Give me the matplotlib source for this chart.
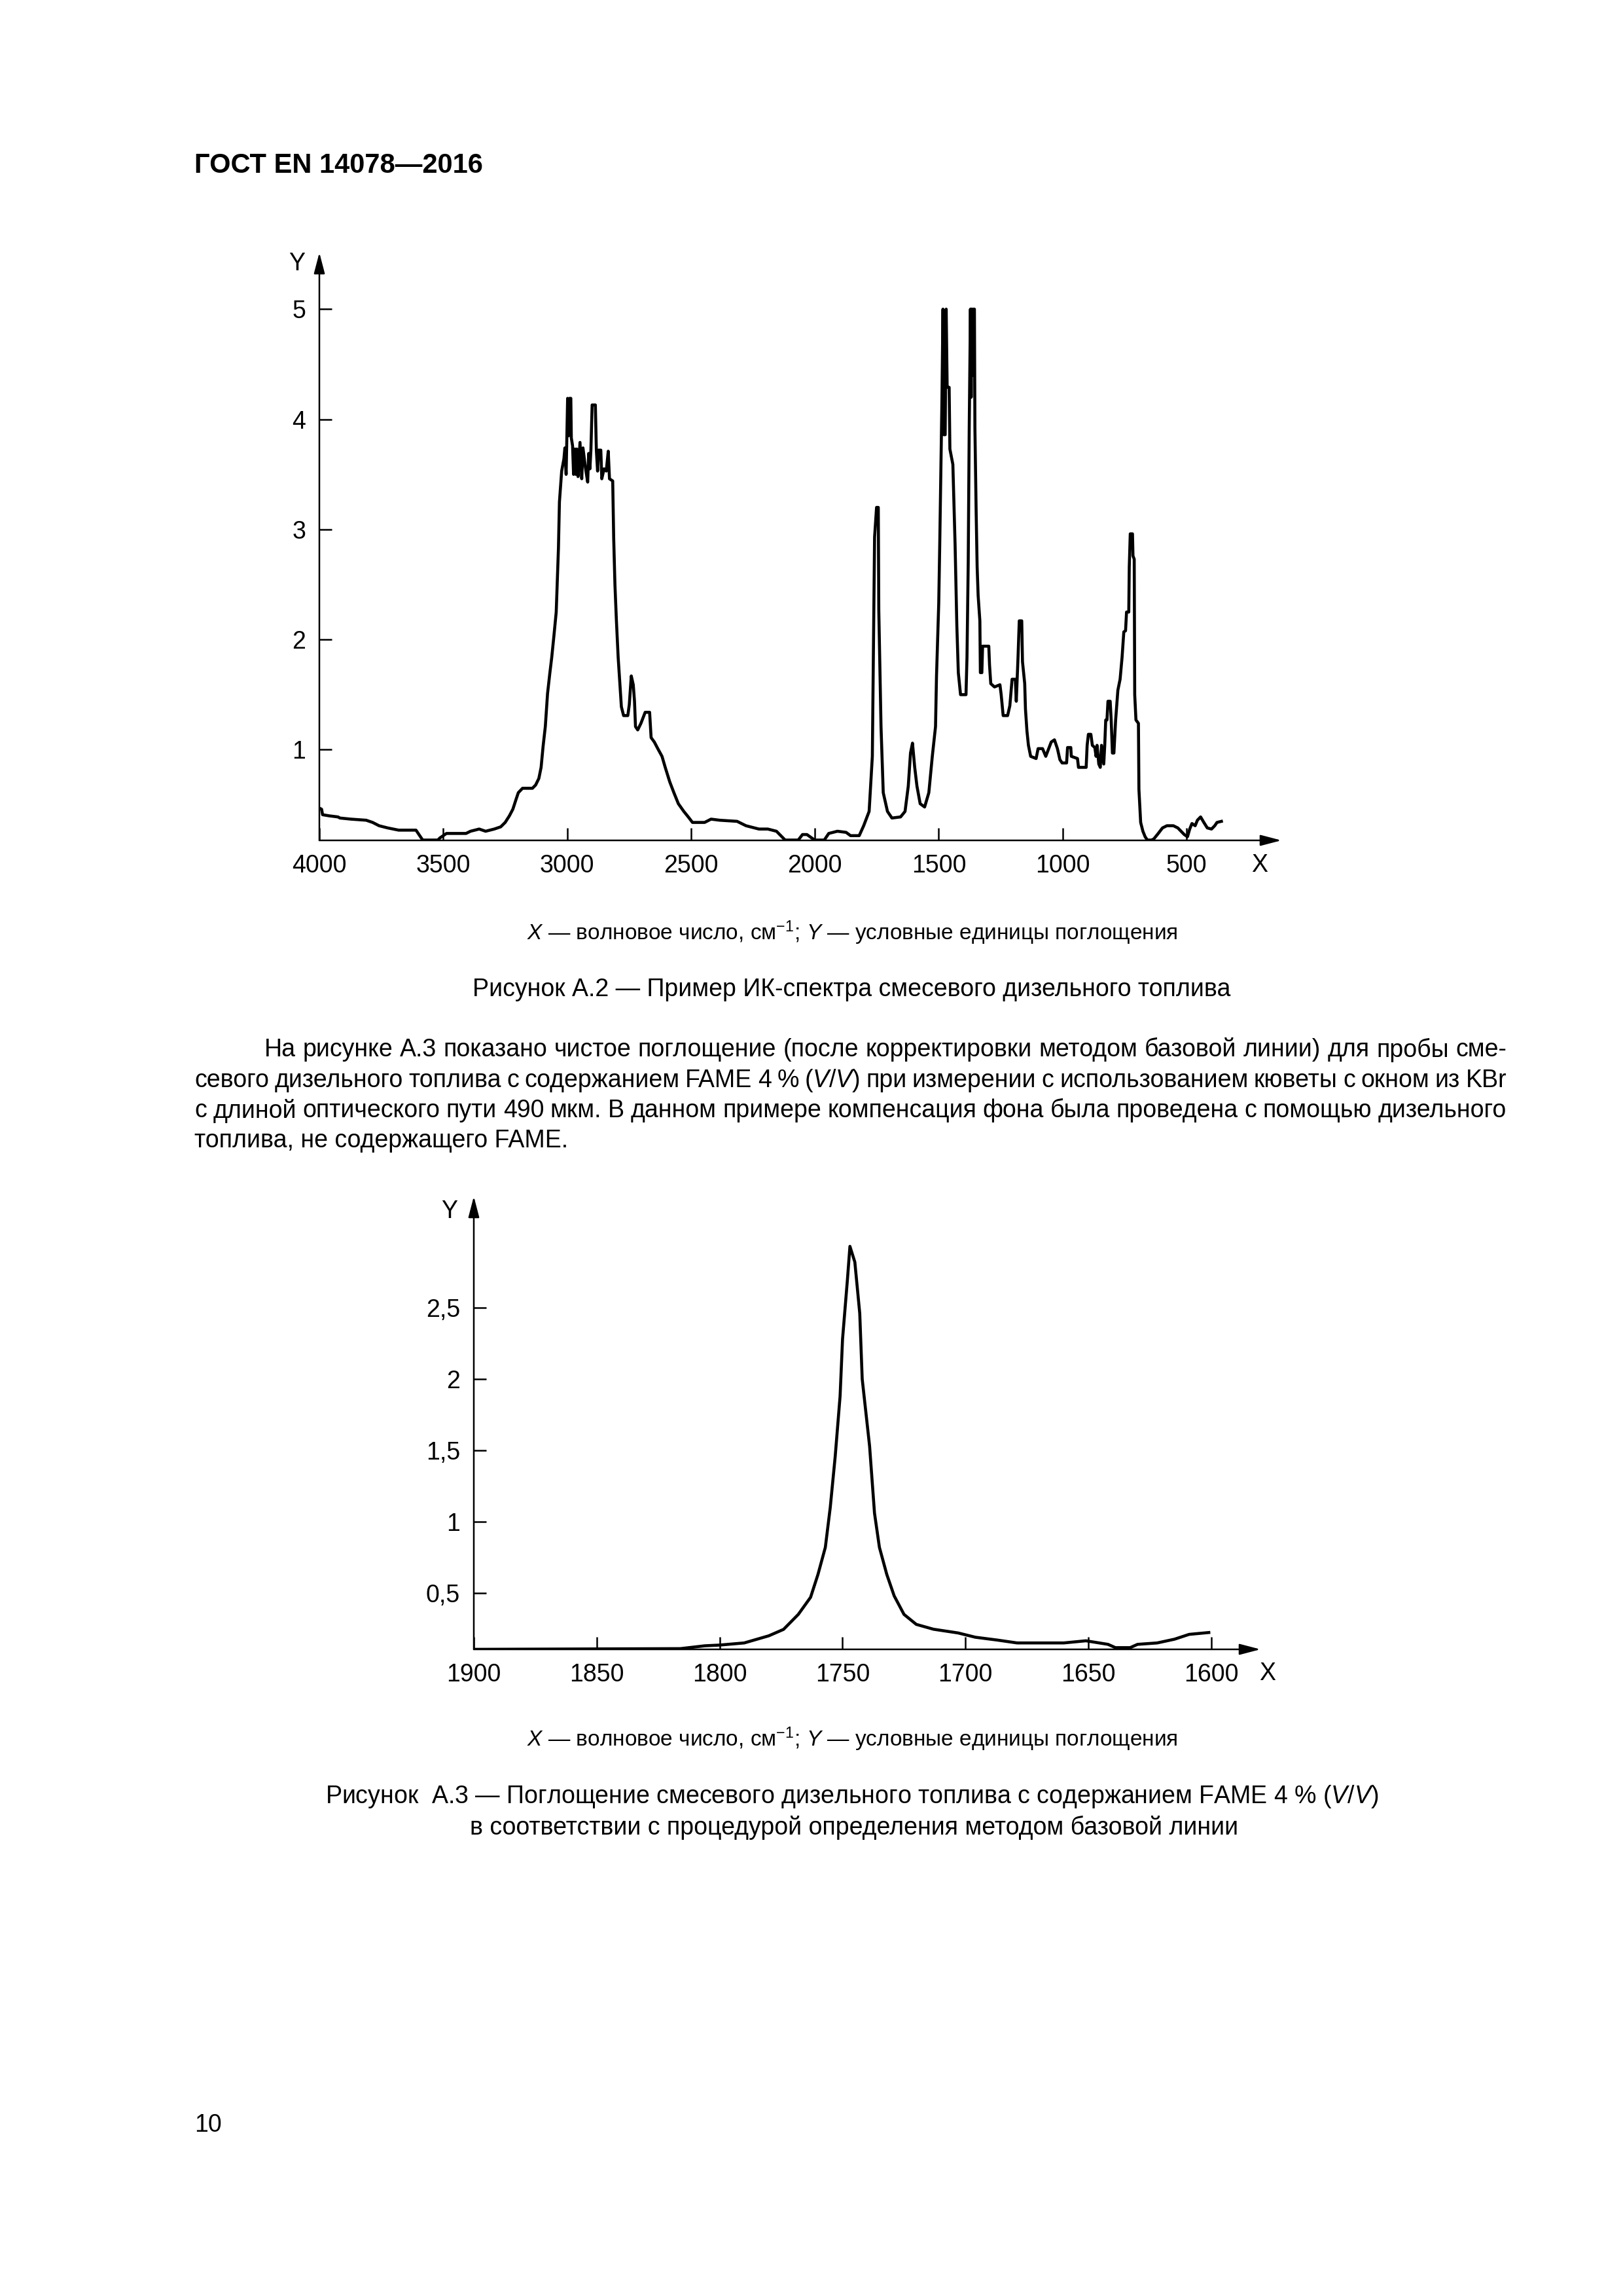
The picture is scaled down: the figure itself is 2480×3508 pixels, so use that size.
import numpy as np
import matplotlib
matplotlib.use('Agg')
import matplotlib.pyplot as plt

plt.rcParams['font.family'] = ['Liberation Sans', 'DejaVu Sans']
plt.rcParams['mathtext.fontset'] = 'custom'
plt.rcParams['mathtext.rm'] = 'Liberation Sans'
plt.rcParams['mathtext.it'] = 'Liberation Sans:italic'

# --- figure A.2 : IR spectrum of blended diesel fuel (read from the page) ---
wn1 = [4000, 3991, 3987, 3961, 3925, 3917, 3873, 3811, 3785, 3759,
       3724, 3680, 3610, 3601, 3583, 3522, 3513, 3487, 3408, 3390,
       3355, 3329, 3294, 3268, 3250, 3233, 3219, 3206, 3197, 3180,
       3140, 3127, 3114, 3105, 3097, 3088, 3079, 3070, 3062, 3053,
       3044, 3035, 3031, 3022, 3013, 3009, 3004, 2998, 2994, 2990,
       2985, 2983, 2978, 2974, 2969, 2965, 2961, 2956, 2948, 2941,
       2936, 2926, 2917, 2913, 2908, 2904, 2899, 2886, 2882, 2877,
       2873, 2864, 2860, 2851, 2842, 2834, 2829, 2816, 2812, 2807,
       2801, 2794, 2786, 2781, 2772, 2755, 2749, 2741, 2733, 2728,
       2724, 2715, 2702, 2685, 2667, 2661, 2648, 2634, 2617, 2604,
       2586, 2569, 2551, 2529, 2511, 2494, 2445, 2419, 2384, 2314,
       2278, 2226, 2190, 2155, 2120, 2067, 2050, 2032, 2001, 1962,
       1944, 1909, 1874, 1856, 1821, 1803, 1781, 1768, 1759, 1751,
       1744, 1742, 1733, 1724, 1707, 1689, 1654, 1636, 1623, 1614,
       1606, 1597, 1588, 1575, 1557, 1540, 1526, 1513, 1509, 1500,
       1496, 1487, 1483, 1479, 1474, 1470, 1466, 1458, 1455, 1443,
       1434, 1427, 1421, 1412, 1390, 1386, 1381, 1377, 1372, 1369,
       1366, 1362, 1359, 1356, 1354, 1349, 1345, 1341, 1334, 1332,
       1326, 1323, 1298, 1295, 1290, 1275, 1253, 1248, 1240, 1222,
       1213, 1204, 1191, 1187, 1180, 1175, 1165, 1162, 1153, 1150,
       1144, 1138, 1129, 1107, 1099, 1081, 1068, 1046, 1033, 1021,
       1011, 1002, 984, 980, 967, 965, 940, 936, 905, 901,
       896, 886, 880, 870, 865, 861, 854, 848, 843, 834,
       830, 826, 821, 817, 808, 804, 799, 793, 786, 777,
       768, 760, 753, 746, 742, 733, 731, 727, 718, 716,
       711, 709, 704, 694, 692, 685, 676, 667, 658, 641,
       632, 614, 597, 579, 553, 535, 522, 509, 496, 487,
       478, 465, 456, 443, 430, 416, 399, 386, 377, 359]
ab1 = [0.47, 0.46, 0.41, 0.40, 0.39, 0.38, 0.37, 0.36, 0.34, 0.31,
       0.29, 0.27, 0.27, 0.24, 0.18, 0.18, 0.20, 0.24, 0.24, 0.26,
       0.28, 0.26, 0.28, 0.30, 0.34, 0.40, 0.46, 0.55, 0.61, 0.65,
       0.65, 0.68, 0.74, 0.84, 1.03, 1.21, 1.51, 1.69, 1.84, 2.04,
       2.25, 2.83, 3.25, 3.53, 3.64, 3.74, 3.50, 4.19, 3.85, 4.19,
       4.19, 3.83, 3.76, 3.50, 3.73, 3.50, 3.73, 3.48, 3.79, 3.46,
       3.74, 3.56, 3.43, 3.69, 3.55, 3.72, 4.13, 4.13, 3.72, 3.53,
       3.72, 3.72, 3.46, 3.55, 3.53, 3.71, 3.46, 3.44, 2.92, 2.50,
       2.17, 1.84, 1.56, 1.39, 1.31, 1.31, 1.41, 1.67, 1.59, 1.44,
       1.21, 1.18, 1.24, 1.34, 1.34, 1.11, 1.07, 1.01, 0.94, 0.84,
       0.71, 0.61, 0.51, 0.44, 0.39, 0.34, 0.34, 0.37, 0.36, 0.35,
       0.31, 0.28, 0.28, 0.26, 0.18, 0.18, 0.23, 0.23, 0.18, 0.18,
       0.24, 0.26, 0.25, 0.22, 0.22, 0.31, 0.44, 0.94, 2.93, 3.20,
       3.20, 2.27, 1.21, 0.61, 0.44, 0.38, 0.39, 0.44, 0.67, 0.97,
       1.06, 0.84, 0.67, 0.51, 0.48, 0.61, 0.94, 1.21, 1.67, 2.33,
       2.86, 4.19, 5.00, 3.86, 3.86, 5.00, 4.29, 4.29, 3.73, 3.59,
       2.86, 2.13, 1.70, 1.50, 1.50, 1.84, 2.70, 3.92, 5.00, 4.20,
       5.00, 4.40, 5.00, 5.00, 3.92, 3.16, 2.66, 2.40, 2.17, 1.70,
       1.70, 1.94, 1.94, 1.77, 1.60, 1.57, 1.59, 1.50, 1.31, 1.31,
       1.40, 1.64, 1.64, 1.44, 1.84, 2.17, 2.17, 1.80, 1.60, 1.37,
       1.17, 1.04, 0.94, 0.92, 1.01, 1.01, 0.94, 1.07, 1.09, 1.01,
       0.91, 0.88, 0.88, 1.02, 1.02, 0.94, 0.92, 0.84, 0.84, 1.04,
       1.14, 1.14, 1.04, 1.02, 0.94, 1.04, 0.87, 0.84, 1.04, 0.87,
       1.04, 1.27, 1.27, 1.44, 1.44, 1.27, 0.97, 0.97, 1.27, 1.54,
       1.64, 1.84, 2.07, 2.08, 2.25, 2.25, 2.66, 2.96, 2.96, 2.76,
       2.73, 1.50, 1.27, 1.24, 0.64, 0.34, 0.26, 0.21, 0.18, 0.18,
       0.19, 0.24, 0.29, 0.31, 0.31, 0.29, 0.26, 0.23, 0.21, 0.28,
       0.33, 0.31, 0.36, 0.39, 0.34, 0.29, 0.28, 0.31, 0.34, 0.35]
xticks1 = [4000, 3500, 3000, 2500, 2000, 1500, 1000, 500]
yticks1 = [1, 2, 3, 4, 5]
ylabels1 = ['1', '2', '3', '4', '5']

# --- figure A.3 : net absorbance of FAME band ---
wn2 = [1900, 1816, 1806, 1800, 1790, 1780, 1774, 1768, 1763, 1760,
       1757, 1755, 1753, 1751, 1750, 1748, 1747, 1745, 1743, 1742,
       1739, 1737, 1735, 1732, 1729, 1725, 1720, 1713, 1703, 1696,
       1687, 1679, 1660, 1651, 1642, 1639, 1633, 1630, 1622, 1615,
       1609, 1601]
ab2 = [0.105, 0.11, 0.13, 0.135, 0.15, 0.20, 0.245, 0.35, 0.47, 0.63,
       0.82, 1.10, 1.455, 1.88, 2.28, 2.70, 2.93, 2.82, 2.46, 2.00,
       1.53, 1.06, 0.82, 0.63, 0.48, 0.35, 0.28, 0.246, 0.22, 0.19,
       0.17, 0.15, 0.15, 0.165, 0.14, 0.117, 0.117, 0.14, 0.15, 0.176,
       0.21, 0.223]
xticks2 = [1900, 1850, 1800, 1750, 1700, 1650, 1600]
yticks2 = [0.5, 1, 1.5, 2, 2.5]
ylabels2 = ['0,5', '1', '1,5', '2', '2,5']

W, H = 2480, 3508
fig = plt.figure(figsize=(W / 300, H / 300), dpi=300)


def fx(px):
    return px / W


def fy(py):
    return 1 - py / H


def add_chart(l, t, r, b, x, y, xlim, ylim, xt, yt, ylab):
    ax = fig.add_axes([fx(l), fy(b), (r - l) / W, (b - t) / H])
    ax.patch.set_alpha(0)
    ax.plot(x, y, color='black', lw=1.1)
    ax.set_xlim(*xlim)
    ax.set_ylim(*ylim)
    for s in ax.spines.values():
        s.set_visible(False)
    ax.set_xticks(xt)
    ax.set_xticklabels([str(v) for v in xt])
    ax.set_yticks(yt)
    ax.set_yticklabels(ylab)
    ax.tick_params(direction='in', length=4.5, width=0.6, labelsize=9, pad=5)
    arr = dict(arrowstyle='-|>,head_length=0.65,head_width=0.17', color='black',
               lw=0.6, shrinkA=0, shrinkB=0, mutation_scale=10)
    ax.annotate('', xy=(1, 0), xytext=(0, 0), xycoords='axes fraction', arrowprops=arr)
    ax.annotate('', xy=(0, 1), xytext=(0, 0), xycoords='axes fraction', arrowprops=arr)
    return ax


add_chart(488, 386, 1958, 1284, wn1, ab1, (4000, 117), (0.177, 5.513),
          xticks1, yticks1, ylabels1)
fig.text(fx(454), fy(403), 'Y', fontsize=9, ha='center', va='center')
fig.text(fx(1925), fy(1322), 'X', fontsize=9, ha='center', va='center')

add_chart(724, 1828, 1926, 2520, wn2, ab2, (1900, 1580), (0.105, 3.28),
          xticks2, yticks2, ylabels2)
fig.text(fx(687), fy(1851), 'Y', fontsize=9, ha='center', va='center')
fig.text(fx(1937), fy(2557), 'X', fontsize=9, ha='center', va='center')

# --- page text ---
fig.text(fx(297), fy(253), 'ГОСТ EN 14078—2016', fontsize=10, fontweight='bold',
         ha='left', va='center')

legend = r'$\mathit{X}$ — волновое число, см$^{-1}$; $\mathit{Y}$ — условные единицы поглощения'
fig.text(fx(1302), fy(1425), legend, fontsize=8, ha='center', va='center')
fig.text(fx(1301), fy(1512), 'Рисунок А.2 — Пример ИК-спектра смесевого дизельного топлива',
         fontsize=9, ha='center', va='center')

body = [
    ('На рисунке А.3 показано чистое поглощение (после корректировки методом базовой линии) для пробы сме-', 404, True),
    (r'севого дизельного топлива с содержанием FAME 4 % ($\mathit{V/V}$) при измерении с использованием кюветы с окном из KBr', 297, True),
    ('с длиной оптического пути 490 мкм. В данном примере компенсация фона была проведена с помощью дизельного', 297, True),
    ('топлива, не содержащего FAME.', 297, False),
]
line_y = [1604, 1651, 1697, 1743]
right_edge = 2302
renderer = fig.canvas.get_renderer()
for (line, x0, just), yy in zip(body, line_y):
    if not just:
        fig.text(fx(x0), fy(yy), line, fontsize=9, ha='left', va='center')
        continue
    words = line.split(' ')
    arts = [fig.text(0, fy(yy), w, fontsize=9, ha='left', va='center') for w in words]
    widths = [a.get_window_extent(renderer).width for a in arts]
    gap = (right_edge - x0 - sum(widths)) / (len(words) - 1)
    xpos = x0
    for a, w in zip(arts, widths):
        a.set_x(fx(xpos))
        xpos += w + gap

fig.text(fx(1302), fy(2657), legend, fontsize=8, ha='center', va='center')
fig.text(fx(1302), fy(2745),
         r'Рисунок  А.3 — Поглощение смесевого дизельного топлива с содержанием FAME 4 % ($\mathit{V/V}$)',
         fontsize=9, ha='center', va='center')
fig.text(fx(1305), fy(2792), 'в соответствии с процедурой определения методом базовой линии',
         fontsize=9, ha='center', va='center')

fig.text(fx(297), fy(3247), '10', fontsize=9, ha='left', va='center')

fig.savefig('out.png', dpi=300)
